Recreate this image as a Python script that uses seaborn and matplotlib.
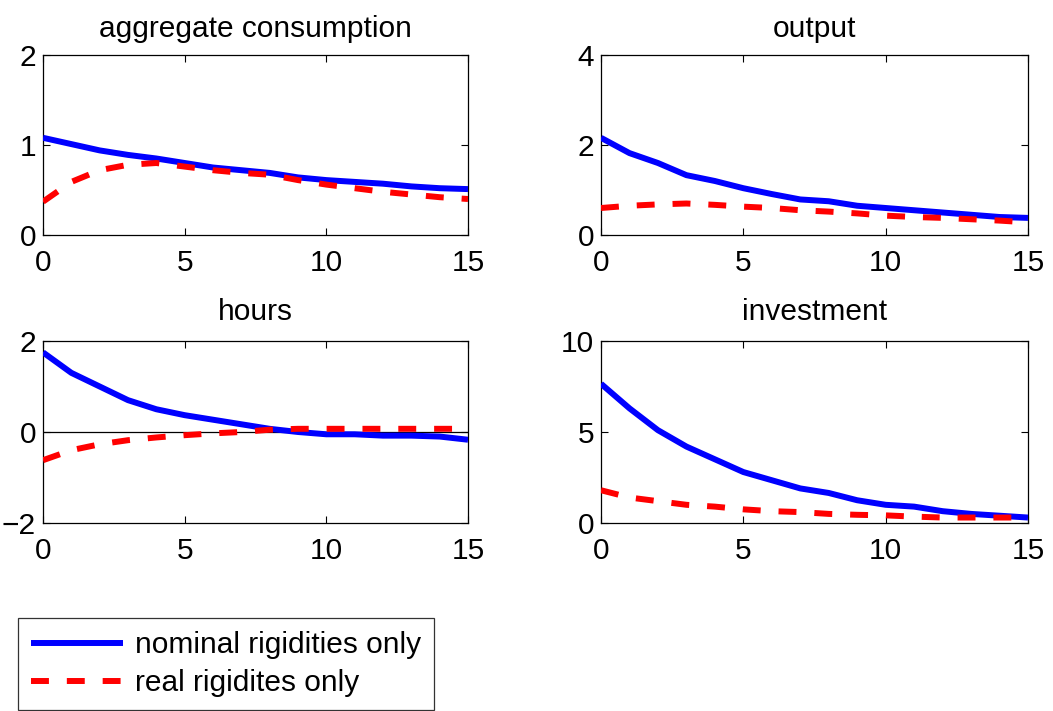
import numpy as np
import pandas as pd
import matplotlib
matplotlib.use("Agg")
import matplotlib.pyplot as plt
import seaborn as sns

periods = list(range(16))

consumption_nominal = [1.08, 1.01, 0.94, 0.89, 0.85, 0.80, 0.75, 0.72, 0.69, 0.64, 0.61, 0.59, 0.57, 0.54, 0.52, 0.51]
consumption_real = [0.37, 0.59, 0.72, 0.78, 0.80, 0.76, 0.72, 0.69, 0.67, 0.61, 0.56, 0.52, 0.48, 0.45, 0.42, 0.40]

output_nominal = [2.16, 1.82, 1.60, 1.33, 1.20, 1.04, 0.91, 0.79, 0.75, 0.65, 0.60, 0.55, 0.50, 0.45, 0.40, 0.38]
output_real = [0.60, 0.65, 0.68, 0.70, 0.67, 0.63, 0.60, 0.55, 0.52, 0.48, 0.43, 0.40, 0.38, 0.35, 0.32, 0.28]

hours_nominal = [1.75, 1.30, 1.00, 0.70, 0.50, 0.37, 0.27, 0.17, 0.07, 0.00, -0.05, -0.05, -0.08, -0.08, -0.10, -0.17]
hours_real = [-0.62, -0.40, -0.27, -0.18, -0.12, -0.07, -0.03, 0.00, 0.05, 0.07, 0.07, 0.07, 0.07, 0.07, 0.07, 0.07]

investment_nominal = [7.65, 6.30, 5.10, 4.20, 3.50, 2.80, 2.35, 1.90, 1.65, 1.25, 1.00, 0.90, 0.65, 0.50, 0.40, 0.30]
investment_real = [1.80, 1.40, 1.20, 1.00, 0.90, 0.75, 0.65, 0.60, 0.50, 0.45, 0.42, 0.35, 0.30, 0.30, 0.30, 0.30]

titles = ["aggregate consumption", "output", "hours", "investment"]
series_labels = ["nominal rigidities only", "real rigidites only"]
ylims = [(0, 2), (0, 4), (-2, 2), (0, 10)]
yticks = [[0, 1, 2], [0, 2, 4], [-2, 0, 2], [0, 5, 10]]
xticks = [0, 5, 10, 15]

panels = [
    (consumption_nominal, consumption_real),
    (output_nominal, output_real),
    (hours_nominal, hours_real),
    (investment_nominal, investment_real),
]

sns.set_style("ticks")
plt.rcParams["font.family"] = ["Liberation Sans", "DejaVu Sans"]
plt.rcParams["text.color"] = "black"
plt.rcParams["lines.solid_capstyle"] = "butt"
FS = 21.5

fig = plt.figure(figsize=(10.53, 7.11), dpi=100)
W, H = 1053.0, 711.0
# axes pixel boxes: left, top, right, bottom
boxes = [(43, 55, 468, 235), (601, 55, 1028, 235), (43, 341, 468, 523), (601, 341, 1028, 523)]

palette = {series_labels[0]: "#0000ff", series_labels[1]: "#ff0000"}
dashes = {series_labels[0]: "", series_labels[1]: (3, 3)}

axes = []
for i, (nom, real) in enumerate(panels):
    l, t, r, b = boxes[i]
    ax = fig.add_axes([l / W, (H - b) / H, (r - l) / W, (b - t) / H])
    df = pd.DataFrame({
        "t": periods * 2,
        "v": list(nom) + list(real),
        "s": [series_labels[0]] * len(nom) + [series_labels[1]] * len(real),
    })
    if i == 2:
        ax.axhline(0, color="black", lw=0.9, zorder=1)
    sns.lineplot(data=df, x="t", y="v", hue="s", style="s", palette=palette,
                 dashes=dashes, hue_order=series_labels, style_order=series_labels,
                 linewidth=4.3, legend=False, ax=ax, zorder=3)
    ax.set_xlim(0, 15)
    ax.set_ylim(*ylims[i])
    ax.set_xticks(xticks)
    ax.set_yticks(yticks[i])
    ax.set_xlabel("")
    ax.set_ylabel("")
    ax.tick_params(direction="in", top=True, right=True, length=5, width=0.8,
                   labelsize=FS, colors="black")
    ax.tick_params(axis="x", pad=10)
    ax.tick_params(axis="y", pad=5)
    for sp in ax.spines.values():
        sp.set_visible(True)
        sp.set_color("black")
        sp.set_linewidth(0.9)
    ax.set_title(titles[i], fontsize=FS, color="black", pad=13 if i < 2 else 15)
    axes.append(ax)

lines = [ln for ln in axes[0].get_lines()][:2]
leg = fig.legend(lines, series_labels, loc="lower left",
                 bbox_to_anchor=(18 / W, 1 / H), fontsize=FS,
                 frameon=True, fancybox=False, edgecolor="black",
                 handlelength=3.1, handletextpad=0.4, borderpad=0.42,
                 labelspacing=0.35, borderaxespad=0)
leg.get_frame().set_linewidth(0.9)
for txt in leg.get_texts():
    txt.set_color("black")

fig.savefig("out.png", dpi=100, facecolor="white")
